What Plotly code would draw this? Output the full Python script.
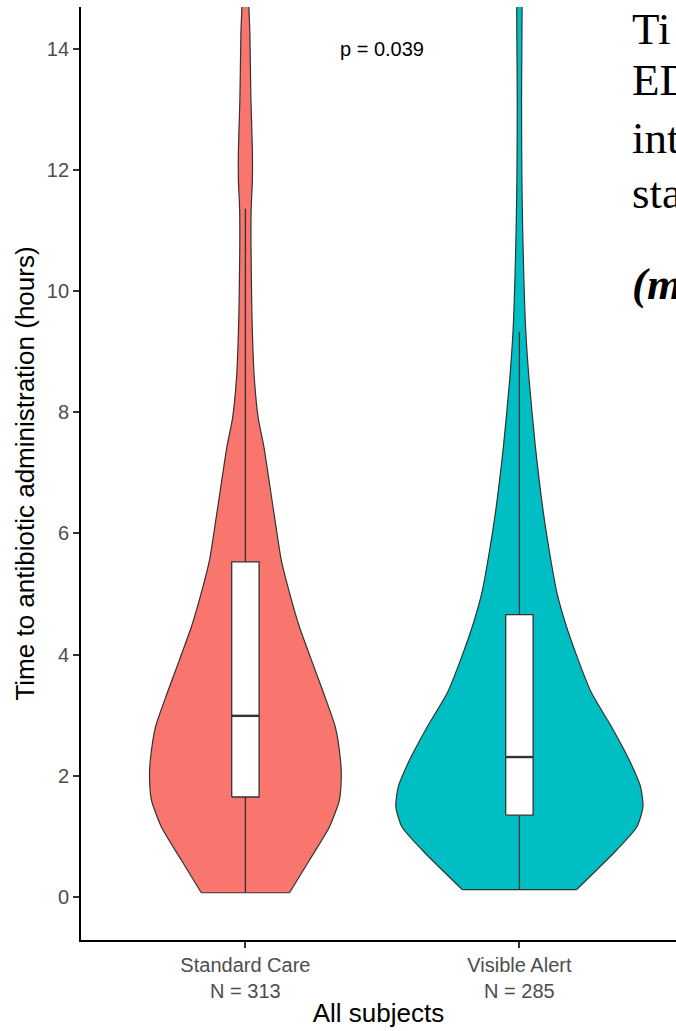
import plotly.graph_objects as go

# ---------------- data ----------------
groups = ["Standard Care", "Visible Alert"]
group_n = [313, 285]
colors = ["#F8766D", "#00BFC4"]

# violin density profiles: hours and half-width (in category units), from bottom to top
sc_y = [0.07, 0.61, 1.16, 1.60, 2.01, 2.26, 2.81, 3.37, 3.91, 4.46, 5.02, 5.56, 6.34,
        7.43, 7.9, 8.54, 9.1, 9.64, 10.73, 11.34, 11.84, 12.33, 13.16, 14.26, 14.69, 15.5]
sc_w = [0.161, 0.234, 0.307, 0.343, 0.350, 0.347, 0.328, 0.285, 0.241, 0.197, 0.161, 0.131, 0.104,
        0.0675, 0.047, 0.0328, 0.027, 0.0237, 0.0205, 0.021, 0.0255, 0.0255, 0.0201, 0.0164, 0.0128, 0.011]

va_y = [0.12, 0.45, 0.78, 1.16, 1.49, 1.82, 2.26, 2.81, 3.37, 3.91, 4.46, 5.02, 5.50,
        6.34, 7.43, 8.54, 9.36, 10.19, 11.01, 11.84, 13.16, 14.69, 15.5]
va_w = [0.208, 0.283, 0.356, 0.429, 0.451, 0.442, 0.401, 0.336, 0.263, 0.215, 0.172, 0.137, 0.117,
        0.0876, 0.0584, 0.0354, 0.023, 0.0164, 0.012, 0.0091, 0.0078, 0.0099, 0.009]

# box-plot statistics (hours)
q1 = [1.65, 1.35]
median = [2.99, 2.31]
q3 = [5.53, 4.66]
lower = [0.07, 0.12]
upper = [11.36, 9.33]

p_text = "p = 0.039"
y_ticks = [0, 2, 4, 6, 8, 10, 12, 14]

# ---------------- figure ----------------
fig = go.Figure()
edge = "#333333"
box_w = 0.1

for i, (ys, ws) in enumerate([(sc_y, sc_w), (va_y, va_w)]):
    c = i + 1
    # open path: bottom-right, up the right side, down the left side to bottom-left
    xs = [c + w for w in ws] + [c - w for w in reversed(ws)]
    yy = list(ys) + list(reversed(ys))
    fig.add_trace(go.Scatter(x=xs, y=yy, mode="lines", fill="toself",
                             fillcolor=colors[i],
                             line=dict(color=edge, width=1.2, shape="spline", smoothing=0.6),
                             hoverinfo="skip", showlegend=False))
    # flat bottom edge of the violin
    fig.add_trace(go.Scatter(x=[c - ws[0], c + ws[0]], y=[ys[0], ys[0]], mode="lines",
                             line=dict(color=edge, width=1.2),
                             hoverinfo="skip", showlegend=False))

for i in range(2):
    c = i + 1
    # whiskers
    fig.add_trace(go.Scatter(x=[c, c, None, c, c], y=[lower[i], q1[i], None, q3[i], upper[i]],
                             mode="lines", line=dict(color=edge, width=1.3),
                             hoverinfo="skip", showlegend=False))
    # box
    fig.add_trace(go.Scatter(x=[c - box_w / 2, c + box_w / 2, c + box_w / 2, c - box_w / 2, c - box_w / 2],
                             y=[q1[i], q1[i], q3[i], q3[i], q1[i]],
                             mode="lines", fill="toself", fillcolor="white",
                             line=dict(color=edge, width=1.3),
                             hoverinfo="skip", showlegend=False))
    # median
    fig.add_trace(go.Scatter(x=[c - box_w / 2, c + box_w / 2], y=[median[i], median[i]],
                             mode="lines", line=dict(color=edge, width=2.4),
                             hoverinfo="skip", showlegend=False))

fig.add_annotation(x=1.5, y=14, xref="x", yref="y", text=p_text, showarrow=False,
                   font=dict(family="Liberation Sans, Arial", size=20, color="black"))

# slide text cut at right edge
slide_lines = [("Ti", 29), ("ED", 80), ("int", 138), ("sta", 193), ("<b><i>(m</i></b>", 284)]
for txt, ypx in slide_lines:
    fig.add_annotation(x=(630 - 81) / 595, y=(940 - ypx) / 933, xref="paper", yref="paper",
                       text=txt, showarrow=False, xanchor="left", yanchor="middle",
                       font=dict(family="Liberation Serif, Times New Roman, serif", size=45,
                                 color="black"))

fig.update_layout(
    width=676, height=1031,
    margin=dict(l=81, r=0, t=7, b=91),
    paper_bgcolor="white", plot_bgcolor="white",
    font=dict(family="Liberation Sans, Arial", color="black"),
    xaxis=dict(range=[0.4, 0.4 + 595 / 274], tickmode="array", tickvals=[1, 2],
               ticktext=[f"{g}<br>N = {n}" for g, n in zip(groups, group_n)],
               tickfont=dict(size=20, color="#4D4D4D"),
               showline=True, linecolor="black", linewidth=1.8,
               ticks="outside", ticklen=6, tickcolor="#333333", tickwidth=1.5,
               showgrid=False, zeroline=False,
               title=dict(text="All subjects", font=dict(size=26, color="black"), standoff=3)),
    yaxis=dict(range=[-0.71, 14.69], tickvals=y_ticks,
               tickfont=dict(size=20, color="#4D4D4D"),
               showline=True, linecolor="black", linewidth=1.8,
               ticks="outside", ticklen=6, tickcolor="#333333", tickwidth=1.5,
               showgrid=False, zeroline=False,
               title=dict(text="Time to antibiotic administration (hours)",
                          font=dict(size=26, color="black"), standoff=5)),
)

fig.write_html("out.html", config={"displayModeBar": False},
               post_script="document.body.style.margin='0';document.body.style.overflow='hidden';")
